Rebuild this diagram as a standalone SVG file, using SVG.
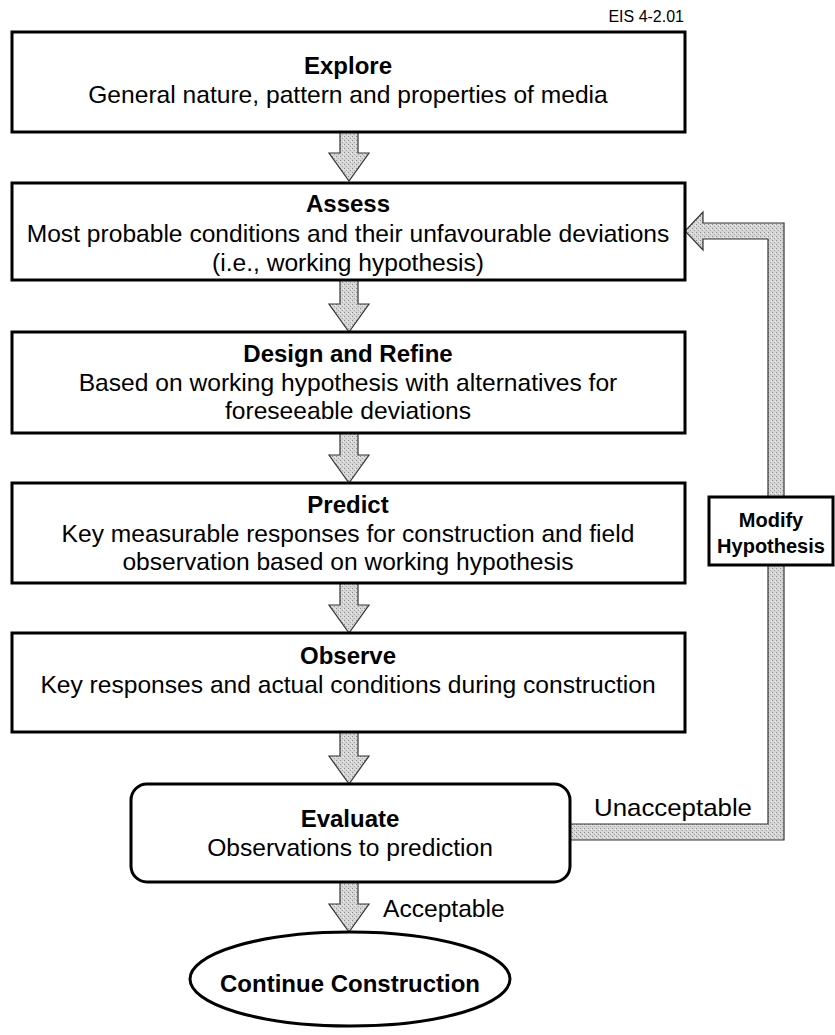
<svg xmlns="http://www.w3.org/2000/svg" width="835" height="1035" viewBox="0 0 835 1035">
<defs>
<pattern id="stip" width="4" height="4" patternUnits="userSpaceOnUse">
<rect width="4" height="4" fill="#d6d6d6"/>
<rect x="0" y="0" width="1" height="1" fill="#8a8a8a"/>
<rect x="2" y="2" width="1" height="1" fill="#a0a0a0"/>
<rect x="3" y="1" width="1" height="1" fill="#f0f0f0"/>
</pattern>
</defs>
<style>
.box{fill:#fff;stroke:#000;stroke-width:3}
.arr{fill:url(#stip);stroke:#333;stroke-width:1.2;stroke-linejoin:miter}
.t{font-family:"Liberation Sans",Arial,sans-serif;font-size:24.6px;fill:#000;text-anchor:middle}
.b{font-weight:bold;font-size:24px}
.l{text-anchor:start}
.s{font-family:"Liberation Sans",Arial,sans-serif;font-size:16px;fill:#000;text-anchor:end}
</style>
<rect width="835" height="1035" fill="#fff"/>
<text class="s" x="684" y="22">EIS 4-2.01</text>

<g id="connectors">
<path class="arr" d="M340,132 L358,132 L358,153 L369,153 L349,181 L329,153 L340,153 Z"/>
<path class="arr" d="M340,280 L358,280 L358,304 L369,304 L349,332 L329,304 L340,304 Z"/>
<path class="arr" d="M340,433 L358,433 L358,455 L369,455 L349,483 L329,455 L340,455 Z"/>
<path class="arr" d="M340,583 L358,583 L358,605 L369,605 L349,633 L329,605 L340,605 Z"/>
<path class="arr" d="M340,732 L358,732 L358,756 L369,756 L349,784 L329,756 L340,756 Z"/>
<path class="arr" d="M340,882 L358,882 L358,904 L369,904 L349,932 L329,904 L340,904 Z"/>
<path class="arr" d="M570,824 L768,824 L768,239 L703,239 L703,250 L685,231 L703,212 L703,223 L784,223 L784,840 L570,840 Z"/>
<text class="t l" x="594" y="816" textLength="158" lengthAdjust="spacingAndGlyphs">Unacceptable</text>
<text class="t l" x="383" y="917">Acceptable</text>
</g>

<g id="explore">
<rect class="box" x="12" y="32" width="673" height="100"/>
<text class="t b" x="348" y="74">Explore</text>
<text class="t" x="348" y="103">General nature, pattern and properties of media</text>
</g>
<g id="assess">
<rect class="box" x="12" y="183" width="673" height="97"/>
<text class="t b" x="348" y="212">Assess</text>
<text class="t" x="348" y="242">Most probable conditions and their unfavourable deviations</text>
<text class="t" x="348" y="271">(i.e., working hypothesis)</text>
</g>
<g id="design">
<rect class="box" x="12" y="332" width="673" height="101"/>
<text class="t b" x="348" y="362">Design and Refine</text>
<text class="t" x="348" y="391">Based on working hypothesis with alternatives for</text>
<text class="t" x="348" y="419">foreseeable deviations</text>
</g>
<g id="predict">
<rect class="box" x="12" y="483" width="673" height="100"/>
<text class="t b" x="348" y="513">Predict</text>
<text class="t" x="348" y="542">Key measurable responses for construction and field</text>
<text class="t" x="348" y="570">observation based on working hypothesis</text>
</g>
<g id="observe">
<rect class="box" x="12" y="633" width="673" height="99"/>
<text class="t b" x="348" y="664">Observe</text>
<text class="t" x="348" y="693">Key responses and actual conditions during construction</text>
</g>
<g id="evaluate">
<rect class="box" x="131" y="784" width="439" height="98" rx="16" ry="16"/>
<text class="t b" x="350" y="827">Evaluate</text>
<text class="t" x="350" y="856">Observations to prediction</text>
</g>
<g id="continue">
<ellipse class="box" cx="350" cy="979" rx="160" ry="47"/>
<text class="t b" x="350" y="992">Continue Construction</text>
</g>
<g id="modify">
<rect class="box" x="709" y="497" width="124" height="68"/>
<text class="t b" x="771" y="527" style="font-size:20px">Modify</text>
<text class="t b" x="771" y="553" style="font-size:20px">Hypothesis</text>
</g>
</svg>
